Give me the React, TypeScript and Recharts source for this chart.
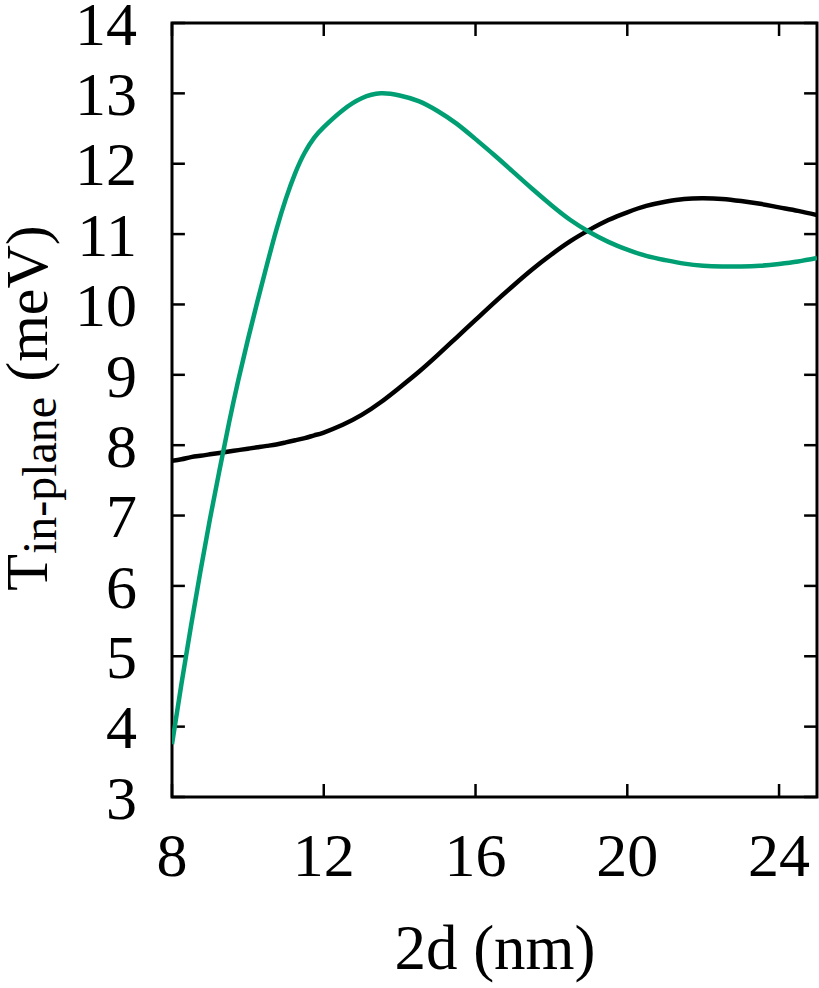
import React from "react";
import { LineChart, Line, XAxis, YAxis, ReferenceArea, ReferenceLine } from "recharts";

// 2d (nm)
const widths = [
  8, 8.25, 8.5, 8.75, 9, 9.25, 9.5, 9.75, 10, 10.25, 10.5, 10.75, 11, 11.25, 11.5, 11.75, 12,
  12.5, 13, 13.5, 14, 14.5, 15, 15.5, 16, 16.5, 17, 17.5, 18, 18.5, 19, 19.5, 20, 20.5,
  21, 21.5, 22, 22.5, 23, 23.5, 24, 24.5, 25,
];
// T in-plane (meV), black curve
const blackT = [
  7.78, 7.8, 7.83, 7.85, 7.87, 7.89, 7.91, 7.93, 7.95, 7.97, 7.99, 8.01, 8.04, 8.07, 8.1,
  8.14, 8.18, 8.29, 8.43, 8.61, 8.82, 9.04, 9.28, 9.53, 9.78, 10.03, 10.27, 10.5, 10.71,
  10.9, 11.06, 11.2, 11.31, 11.4, 11.46, 11.5, 11.51, 11.5, 11.47, 11.43, 11.38, 11.33,
  11.27,
];
// T in-plane (meV), green curve
const greenT = [
  3.75, 4.61, 5.43, 6.21, 6.95, 7.64, 8.31, 8.93, 9.5, 10.04, 10.56, 11.06, 11.5, 11.87,
  12.16, 12.37, 12.52, 12.76, 12.93, 13.0, 12.97, 12.89, 12.75, 12.57, 12.35, 12.12,
  11.88, 11.64, 11.41, 11.2, 11.03, 10.89, 10.78, 10.69, 10.63, 10.58, 10.55, 10.54,
  10.54, 10.55, 10.575, 10.61, 10.66,
];
const xTicks = [8, 12, 16, 20, 24];
const yTicks = [3, 4, 5, 6, 7, 8, 9, 10, 11, 12, 13, 14];

const data = widths.map((w, i) => ({ w, black: blackT[i], green: greenT[i] }));

const X_MIN = 8;
const X_MAX = 25;
const Y_MIN = 3;
const Y_MAX = 14;
// inward tick length in data units (~13px each way)
const TX = 0.34;
const TY = 0.185;

const FONT = "'Liberation Serif', 'Times New Roman', serif";

const LeftLabel = (p: any) => (
  <text x={137} y={p.y} dy="0.35em" textAnchor="end" fontSize={62} fontFamily={FONT} fill="#000">
    {p.payload.value}
  </text>
);
const BottomLabel = (p: any) => (
  <text x={p.x} y={876} textAnchor="middle" fontSize={62} fontFamily={FONT} fill="#000">
    {p.payload.value}
  </text>
);

const tk = { stroke: "#000", strokeWidth: 2.5, ifOverflow: "visible" as const };

export default function App() {
  return (
    <div style={{ position: "absolute", left: 0, top: 0, width: 819, height: 988, background: "#fff" }}>
      <LineChart width={819} height={988} data={data} margin={{ top: 23, right: 2, bottom: 0, left: 0 }}>
        <XAxis
          dataKey="w"
          type="number"
          domain={[X_MIN, X_MAX]}
          ticks={xTicks}
          allowDataOverflow
          height={191}
          tickSize={0}
          tickMargin={0}
          axisLine={false}
          tickLine={false}
          tick={<BottomLabel />}
        />
        <YAxis
          type="number"
          domain={[Y_MIN, Y_MAX]}
          ticks={yTicks}
          allowDataOverflow
          width={172}
          tickSize={0}
          tickMargin={0}
          axisLine={false}
          tickLine={false}
          tick={<LeftLabel />}
        />
        <ReferenceArea
          x1={X_MIN}
          x2={X_MAX}
          y1={Y_MIN}
          y2={Y_MAX}
          ifOverflow="visible"
          fill="#fff"
          fillOpacity={0}
          stroke="#000"
          strokeWidth={3}
        />
        {yTicks.map((v) => (
          <ReferenceLine key={`l${v}`} segment={[{ x: X_MIN, y: v }, { x: X_MIN + TX, y: v }]} {...tk} />
        ))}
        {yTicks.map((v) => (
          <ReferenceLine key={`r${v}`} segment={[{ x: X_MAX - TX, y: v }, { x: X_MAX, y: v }]} {...tk} />
        ))}
        {xTicks.map((v) => (
          <ReferenceLine key={`b${v}`} segment={[{ x: v, y: Y_MIN }, { x: v, y: Y_MIN + TY }]} {...tk} />
        ))}
        {xTicks.map((v) => (
          <ReferenceLine key={`t${v}`} segment={[{ x: v, y: Y_MAX - TY }, { x: v, y: Y_MAX }]} {...tk} />
        ))}
        <Line type="natural" dataKey="black" stroke="#000000" strokeWidth={4.5} dot={false} isAnimationActive={false} />
        <Line type="natural" dataKey="green" stroke="#009e73" strokeWidth={4.5} dot={false} isAnimationActive={false} />
      </LineChart>
      <svg width={819} height={988} style={{ position: "absolute", left: 0, top: 0, pointerEvents: "none" }}>
        <text x={495} y={969} textAnchor="middle" fontSize={63} fontFamily={FONT} fill="#000">
          2d (nm)
        </text>
        <g transform="translate(47,408) rotate(-90)">
          <text x={0} y={0} textAnchor="middle" fontSize={60} fontFamily={FONT} fill="#000">
            T
            <tspan fontSize={48} dy={9}>
              in-plane
            </tspan>
            <tspan fontSize={60} dy={-9}>
              {" (meV)"}
            </tspan>
          </text>
        </g>
      </svg>
    </div>
  );
}
